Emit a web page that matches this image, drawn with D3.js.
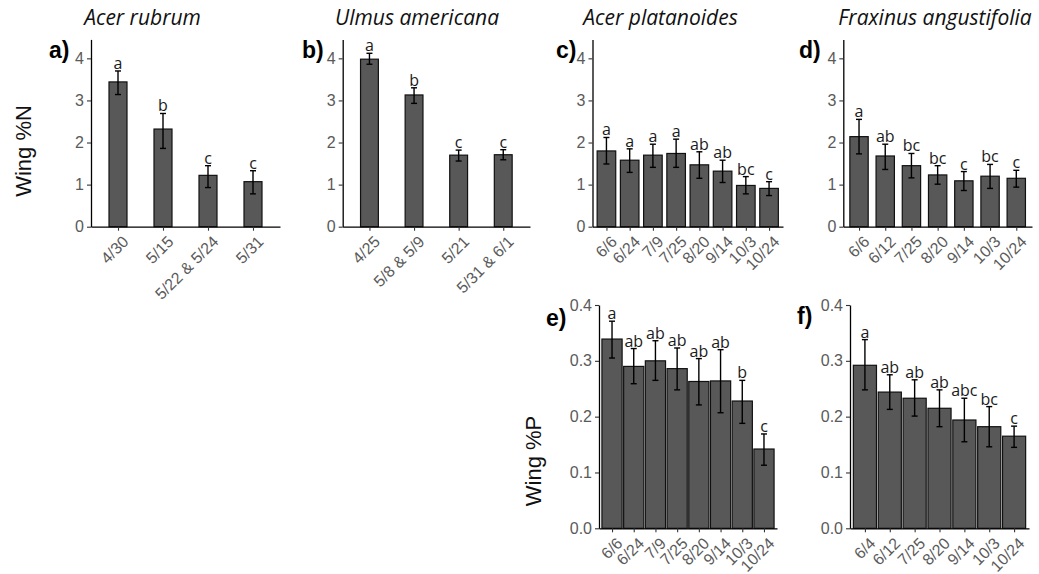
<!DOCTYPE html>
<html><head><meta charset="utf-8">
<script src="https://cdn.jsdelivr.net/npm/d3@7"></script>
<style>body{margin:0;background:#fff} svg{display:block}</style>
</head><body>
<svg id="chart" width="1039" height="574"></svg>
<script>
// Acer rubrum – wing %N (mean, error-bar limits, Tukey letters)
const rubrumDates = ["4/30","5/15","5/22 & 5/24","5/31"];
const rubrumN = [3.44,2.32,1.22,1.07];
const rubrumNLo = [3.14,1.86,0.93,0.78];
const rubrumNHi = [3.70,2.69,1.45,1.33];
const rubrumNLetters = ["a","b","c","c"];

// Ulmus americana – wing %N
const ulmusDates = ["4/25","5/8 & 5/9","5/21","5/31 & 6/1"];
const ulmusN = [3.98,3.13,1.70,1.71];
const ulmusNLo = [3.86,2.93,1.56,1.59];
const ulmusNHi = [4.12,3.30,1.82,1.83];
const ulmusNLetters = ["a","b","c","c"];

// Acer platanoides – wing %N and %P
const platDates = ["6/6","6/24","7/9","7/25","8/20","9/14","10/3","10/24"];
const platN = [1.80,1.58,1.70,1.74,1.47,1.32,0.98,0.91];
const platNLo = [1.49,1.29,1.41,1.41,1.15,1.05,0.78,0.74];
const platNHi = [2.12,1.85,1.96,2.08,1.78,1.58,1.19,1.07];
const platNLetters = ["a","a","a","a","ab","ab","bc","c"];
const platP = [0.339,0.290,0.300,0.286,0.263,0.264,0.228,0.142];
const platPLo = [0.305,0.259,0.265,0.248,0.221,0.207,0.188,0.113];
const platPHi = [0.371,0.322,0.336,0.323,0.304,0.320,0.265,0.169];
const platPLetters = ["a","ab","ab","ab","ab","ab","b","c"];

// Fraxinus angustifolia – wing %N and %P
const fraxNDates = ["6/6","6/12","7/25","8/20","9/14","10/3","10/24"];
const fraxN = [2.14,1.68,1.45,1.23,1.09,1.20,1.15];
const fraxNLo = [1.73,1.36,1.16,1.01,0.86,0.91,0.94];
const fraxNHi = [2.55,1.96,1.74,1.45,1.31,1.48,1.34];
const fraxNLetters = ["a","ab","bc","bc","c","bc","c"];
const fraxPDates = ["6/4","6/12","7/25","8/20","9/14","10/3","10/24"];
const fraxP = [0.292,0.244,0.233,0.215,0.194,0.182,0.165];
const fraxPLo = [0.248,0.213,0.201,0.182,0.155,0.146,0.145];
const fraxPHi = [0.338,0.275,0.266,0.248,0.233,0.218,0.183];
const fraxPLetters = ["a","ab","ab","ab","abc","bc","c"];

// axis ticks
const nTicks = [0,1,2,3,4];
const pTicks = [0,0.1,0.2,0.3,0.4];

const svg = d3.select("#chart");
const SANS = "'Liberation Sans', Arial, sans-serif";
const LABEL = "'Open Sans', sans-serif";

const nRow = {y0: 226.7, yTop: 39.4, yMax: 4.45, ticks: nTicks, fmt: d3.format("d")};
const pRow = {y0: 528.3, yTop: 305, yMax: 0.4, ticks: pTicks, fmt: d3.format(".1f")};

const panels = [
  {tag:"a)", tagX:49, tagY:58, title:"Acer rubrum", titleX:142.5, cats:rubrumDates, vals:rubrumN, lo:rubrumNLo, hi:rubrumNHi, letters:rubrumNLetters, x0:91, x1:280, frac:0.4, row:nRow},
  {tag:"b)", tagX:302, tagY:58, title:"Ulmus americana", titleX:417, cats:ulmusDates, vals:ulmusN, lo:ulmusNLo, hi:ulmusNHi, letters:ulmusNLetters, x0:342.7, x1:530, frac:0.4, row:nRow},
  {tag:"c)", tagX:556, tagY:58, title:"Acer platanoides", titleX:660.5, cats:platDates, vals:platN, lo:platNLo, hi:platNHi, letters:platNLetters, x0:592.5, x1:783, frac:0.8, row:nRow},
  {tag:"d)", tagX:799, tagY:58, title:"Fraxinus angustifolia", titleX:935, cats:fraxNDates, vals:fraxN, lo:fraxNLo, hi:fraxNHi, letters:fraxNLetters, x0:843.3, x1:1032, frac:0.7, row:nRow},
  {tag:"e)", tagX:546, tagY:326, cats:platDates, vals:platP, lo:platPLo, hi:platPHi, letters:platPLetters, x0:599, x1:777, frac:0.93, row:pRow},
  {tag:"f)", tagX:797, tagY:324, cats:fraxPDates, vals:fraxP, lo:fraxPLo, hi:fraxPHi, letters:fraxPLetters, x0:850, x1:1029, frac:0.93, row:pRow}
];

panels.forEach(p => {
  const r = p.row;
  const g = svg.append("g");
  const x = d3.scalePoint().domain(p.cats).range([p.x0, p.x1]).padding(0.6);
  const y = d3.scaleLinear().domain([0, r.yMax]).range([r.y0, r.yTop]);
  const bw = x.step() * p.frac;
  const rows = p.cats.map((c, i) => ({c, v: p.vals[i], lo: p.lo[i], hi: p.hi[i], l: p.letters[i]}));

  // bars
  g.selectAll("rect.bar").data(rows).join("rect")
    .attr("class", "bar")
    .attr("x", d => x(d.c) - bw / 2)
    .attr("y", d => y(d.v))
    .attr("width", bw)
    .attr("height", d => y(0) - y(d.v))
    .attr("fill", "#585858")
    .attr("stroke", "#111")
    .attr("stroke-width", 1.2);

  // error bars
  const eb = g.selectAll("g.err").data(rows).join("g").attr("class", "err")
    .attr("stroke", "#000").attr("stroke-width", 1.4);
  eb.append("line").attr("x1", d => x(d.c)).attr("x2", d => x(d.c))
    .attr("y1", d => y(d.lo)).attr("y2", d => y(d.hi));
  eb.append("line").attr("x1", d => x(d.c) - 3).attr("x2", d => x(d.c) + 3)
    .attr("y1", d => y(d.hi)).attr("y2", d => y(d.hi));
  eb.append("line").attr("x1", d => x(d.c) - 3).attr("x2", d => x(d.c) + 3)
    .attr("y1", d => y(d.lo)).attr("y2", d => y(d.lo));

  // significance letters
  g.selectAll("text.sig").data(rows).join("text")
    .attr("class", "sig")
    .attr("x", d => x(d.c))
    .attr("y", d => y(d.hi) - 2)
    .attr("text-anchor", "middle")
    .attr("font-family", LABEL)
    .attr("font-size", 16)
    .attr("fill", "#1a1a1a")
    .text(d => d.l);

  // y axis
  const ya = g.append("g").attr("transform", `translate(${p.x0},0)`)
    .call(d3.axisLeft(y).tickValues(r.ticks).tickFormat(r.fmt).tickSize(4).tickSizeOuter(0).tickPadding(3));
  // x axis
  const xa = g.append("g").attr("transform", `translate(0,${r.y0})`)
    .call(d3.axisBottom(x).tickSize(4).tickSizeOuter(0));
  [ya, xa].forEach(a => {
    a.select(".domain").attr("stroke", "#000").attr("stroke-width", 1.3);
    a.selectAll(".tick line").attr("stroke", "#333").attr("stroke-width", 1.1);
    a.selectAll("text").attr("font-family", SANS).attr("font-size", 16).attr("fill", "#5a5a5a");
  });
  xa.selectAll(".tick text")
    .attr("text-anchor", "end")
    .attr("x", 0).attr("y", 0).attr("dy", "0.71em")
    .attr("transform", "translate(3,8) rotate(-45)");

  // panel tag
  svg.append("text").attr("x", p.tagX).attr("y", p.tagY)
    .attr("font-family", SANS).attr("font-weight", "bold").attr("font-size", 23)
    .attr("fill", "#000").text(p.tag);

  // species title
  if (p.title) {
    svg.append("text").attr("x", p.titleX).attr("y", 25)
      .attr("text-anchor", "middle")
      .attr("font-family", LABEL).attr("font-style", "italic").attr("font-size", 21)
      .attr("fill", "#111").text(p.title);
  }
});

// y axis titles
[["Wing %N", 23, 151], ["Wing %P", 533, 461]].forEach(([t, cx, cy]) => {
  svg.append("text")
    .attr("transform", `translate(${cx},${cy}) rotate(-90)`)
    .attr("text-anchor", "middle")
    .attr("dominant-baseline", "central")
    .attr("font-family", SANS).attr("font-size", 22)
    .attr("fill", "#111").text(t);
});
</script>
</body></html>
